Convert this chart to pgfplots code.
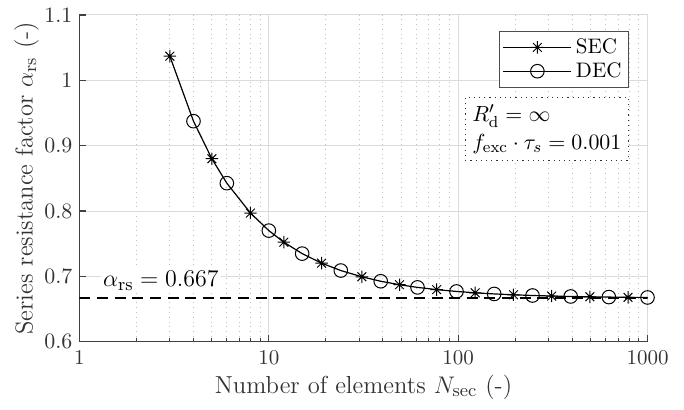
\documentclass[border=0pt]{standalone}
\usepackage{pgfplots}
\pgfplotsset{compat=1.18}
\usetikzlibrary{calc}

% MATLAB-like '*' marker: plus and cross together
\pgfdeclareplotmark{mstar}{%
  \pgfpathmoveto{\pgfqpoint{-\pgfplotmarksize}{0pt}}%
  \pgfpathlineto{\pgfqpoint{\pgfplotmarksize}{0pt}}%
  \pgfpathmoveto{\pgfqpoint{0pt}{-\pgfplotmarksize}}%
  \pgfpathlineto{\pgfqpoint{0pt}{\pgfplotmarksize}}%
  \pgfpathmoveto{\pgfqpoint{-0.707\pgfplotmarksize}{-0.707\pgfplotmarksize}}%
  \pgfpathlineto{\pgfqpoint{0.707\pgfplotmarksize}{0.707\pgfplotmarksize}}%
  \pgfpathmoveto{\pgfqpoint{-0.707\pgfplotmarksize}{0.707\pgfplotmarksize}}%
  \pgfpathlineto{\pgfqpoint{0.707\pgfplotmarksize}{-0.707\pgfplotmarksize}}%
  \pgfusepathqstroke}

\colorlet{axcol}{black!75}
\colorlet{txtcol}{black!80}

\begin{document}
\begin{tikzpicture}
\begin{axis}[
  scale only axis, width=284pt, height=163.35pt,
  xmode=log, xmin=1, xmax=1000, ymin=0.6, ymax=1.1,
  xtick={1,10,100,1000}, xticklabels={1,10,100,1000},
  ytick={0.6,0.7,0.8,0.9,1,1.1},
  yticklabel style={/pgf/number format/fixed},
  axis x line*=bottom, axis y line*=left,
  axis line style={-, axcol, line width=0.8pt},
  every tick/.style={axcol, line width=0.6pt},
  tick align=inside, major tick length=3.3pt, minor tick length=1.8pt,
  xmajorgrids, xminorgrids, ymajorgrids,
  major grid style={black!14, line width=0.5pt},
  minor grid style={black!25, dotted, line width=0.4pt},
  tick label style={font=\fontsize{10.5}{12}\selectfont, text=txtcol},
  xticklabel style={yshift=-1pt},
  label style={font=\fontsize{12.3}{14}\selectfont, text=txtcol},
  xlabel={Number of elements $N_{\mathrm{sec}}$ (-)},
  ylabel={Series resistance factor $\alpha_{\mathrm{rs}}$ (-)},
  xlabel style={yshift=2pt},
  ylabel style={yshift=-4pt},
  legend style={at={(rel axis cs:0.9674,0.951)}, anchor=north east,
    draw=black!70, line width=0.5pt, fill=white,
    font=\fontsize{10.5}{12}\selectfont, inner sep=1.5pt, row sep=-1pt},
  legend cell align=left,
]
% one curve through all computed points
\addplot[black, line width=0.6pt, forget plot] coordinates {
  (3,1.0370) (4,0.9375) (5,0.8800) (6,0.8426) (8,0.7969) (10,0.7700)
  (12,0.7523) (15,0.7348) (19,0.7202) (24,0.7089) (31,0.6993) (39,0.6925)
  (49,0.6872) (61,0.6831) (77,0.6797) (98,0.6769) (123,0.6748) (155,0.6731)
  (196,0.6718) (247,0.6707) (312,0.6699) (393,0.6692) (496,0.6687)
  (625,0.6683) (789,0.6679) (1000,0.6677)};
\addplot[black, only marks, mark=mstar, mark size=3.1pt, mark options={line width=0.5pt},
  legend image code/.code={
    \draw[black, line width=0.6pt] (0pt,0pt) -- (34pt,0pt);
    \draw[black, line width=0.5pt] plot[mark=mstar, mark size=3.1pt] coordinates {(17pt,0pt)};}]
  coordinates {
  (3,1.0370) (5,0.8800) (8,0.7969) (12,0.7523) (19,0.7202) (31,0.6993)
  (49,0.6872) (77,0.6797) (123,0.6748) (196,0.6718) (312,0.6699)
  (496,0.6687) (789,0.6679)};
\addlegendentry{SEC}
\addplot[black, only marks, mark=o, mark size=3.4pt, mark options={line width=0.5pt},
  legend image code/.code={
    \draw[black, line width=0.6pt] (0pt,0pt) -- (34pt,0pt);
    \draw[black, line width=0.5pt] plot[mark=o, mark size=3.4pt] coordinates {(17pt,0pt)};}]
  coordinates {
  (4,0.9375) (6,0.8426) (10,0.7700) (15,0.7348) (24,0.7089) (39,0.6925)
  (61,0.6831) (98,0.6769) (155,0.6731) (247,0.6707) (393,0.6692)
  (625,0.6683) (1000,0.6677)};
\addlegendentry{DEC}
\addplot[black, line width=0.6pt, dash pattern=on 5.5pt off 3.3pt, forget plot] coordinates {(1,0.667) (1000,0.667)};
\node[anchor=base west, fill=white, inner sep=1pt, xshift=-1pt,
  font=\fontsize{12.3}{14}\selectfont] at (axis cs:1.326,0.6842)
  {$\alpha_{\mathrm{rs}} = 0.667$};
\node[anchor=north east, draw=black!80, dotted, line width=0.6pt, fill=white,
  align=left, inner sep=3.5pt, font=\fontsize{10.8}{14}\selectfont]
  at (rel axis cs:0.9674,0.75)
  {$R'_{\mathrm{d}} = \infty$\\ $f_{\mathrm{exc}}\cdot\tau_s = 0.001$};
\end{axis}
\pgfresetboundingbox
\path ($(current axis.south west)+(-39.75pt,-34.15pt)$) rectangle ($(current axis.north east)+(18.25pt,7.5pt)$);
\end{tikzpicture}
\end{document}
